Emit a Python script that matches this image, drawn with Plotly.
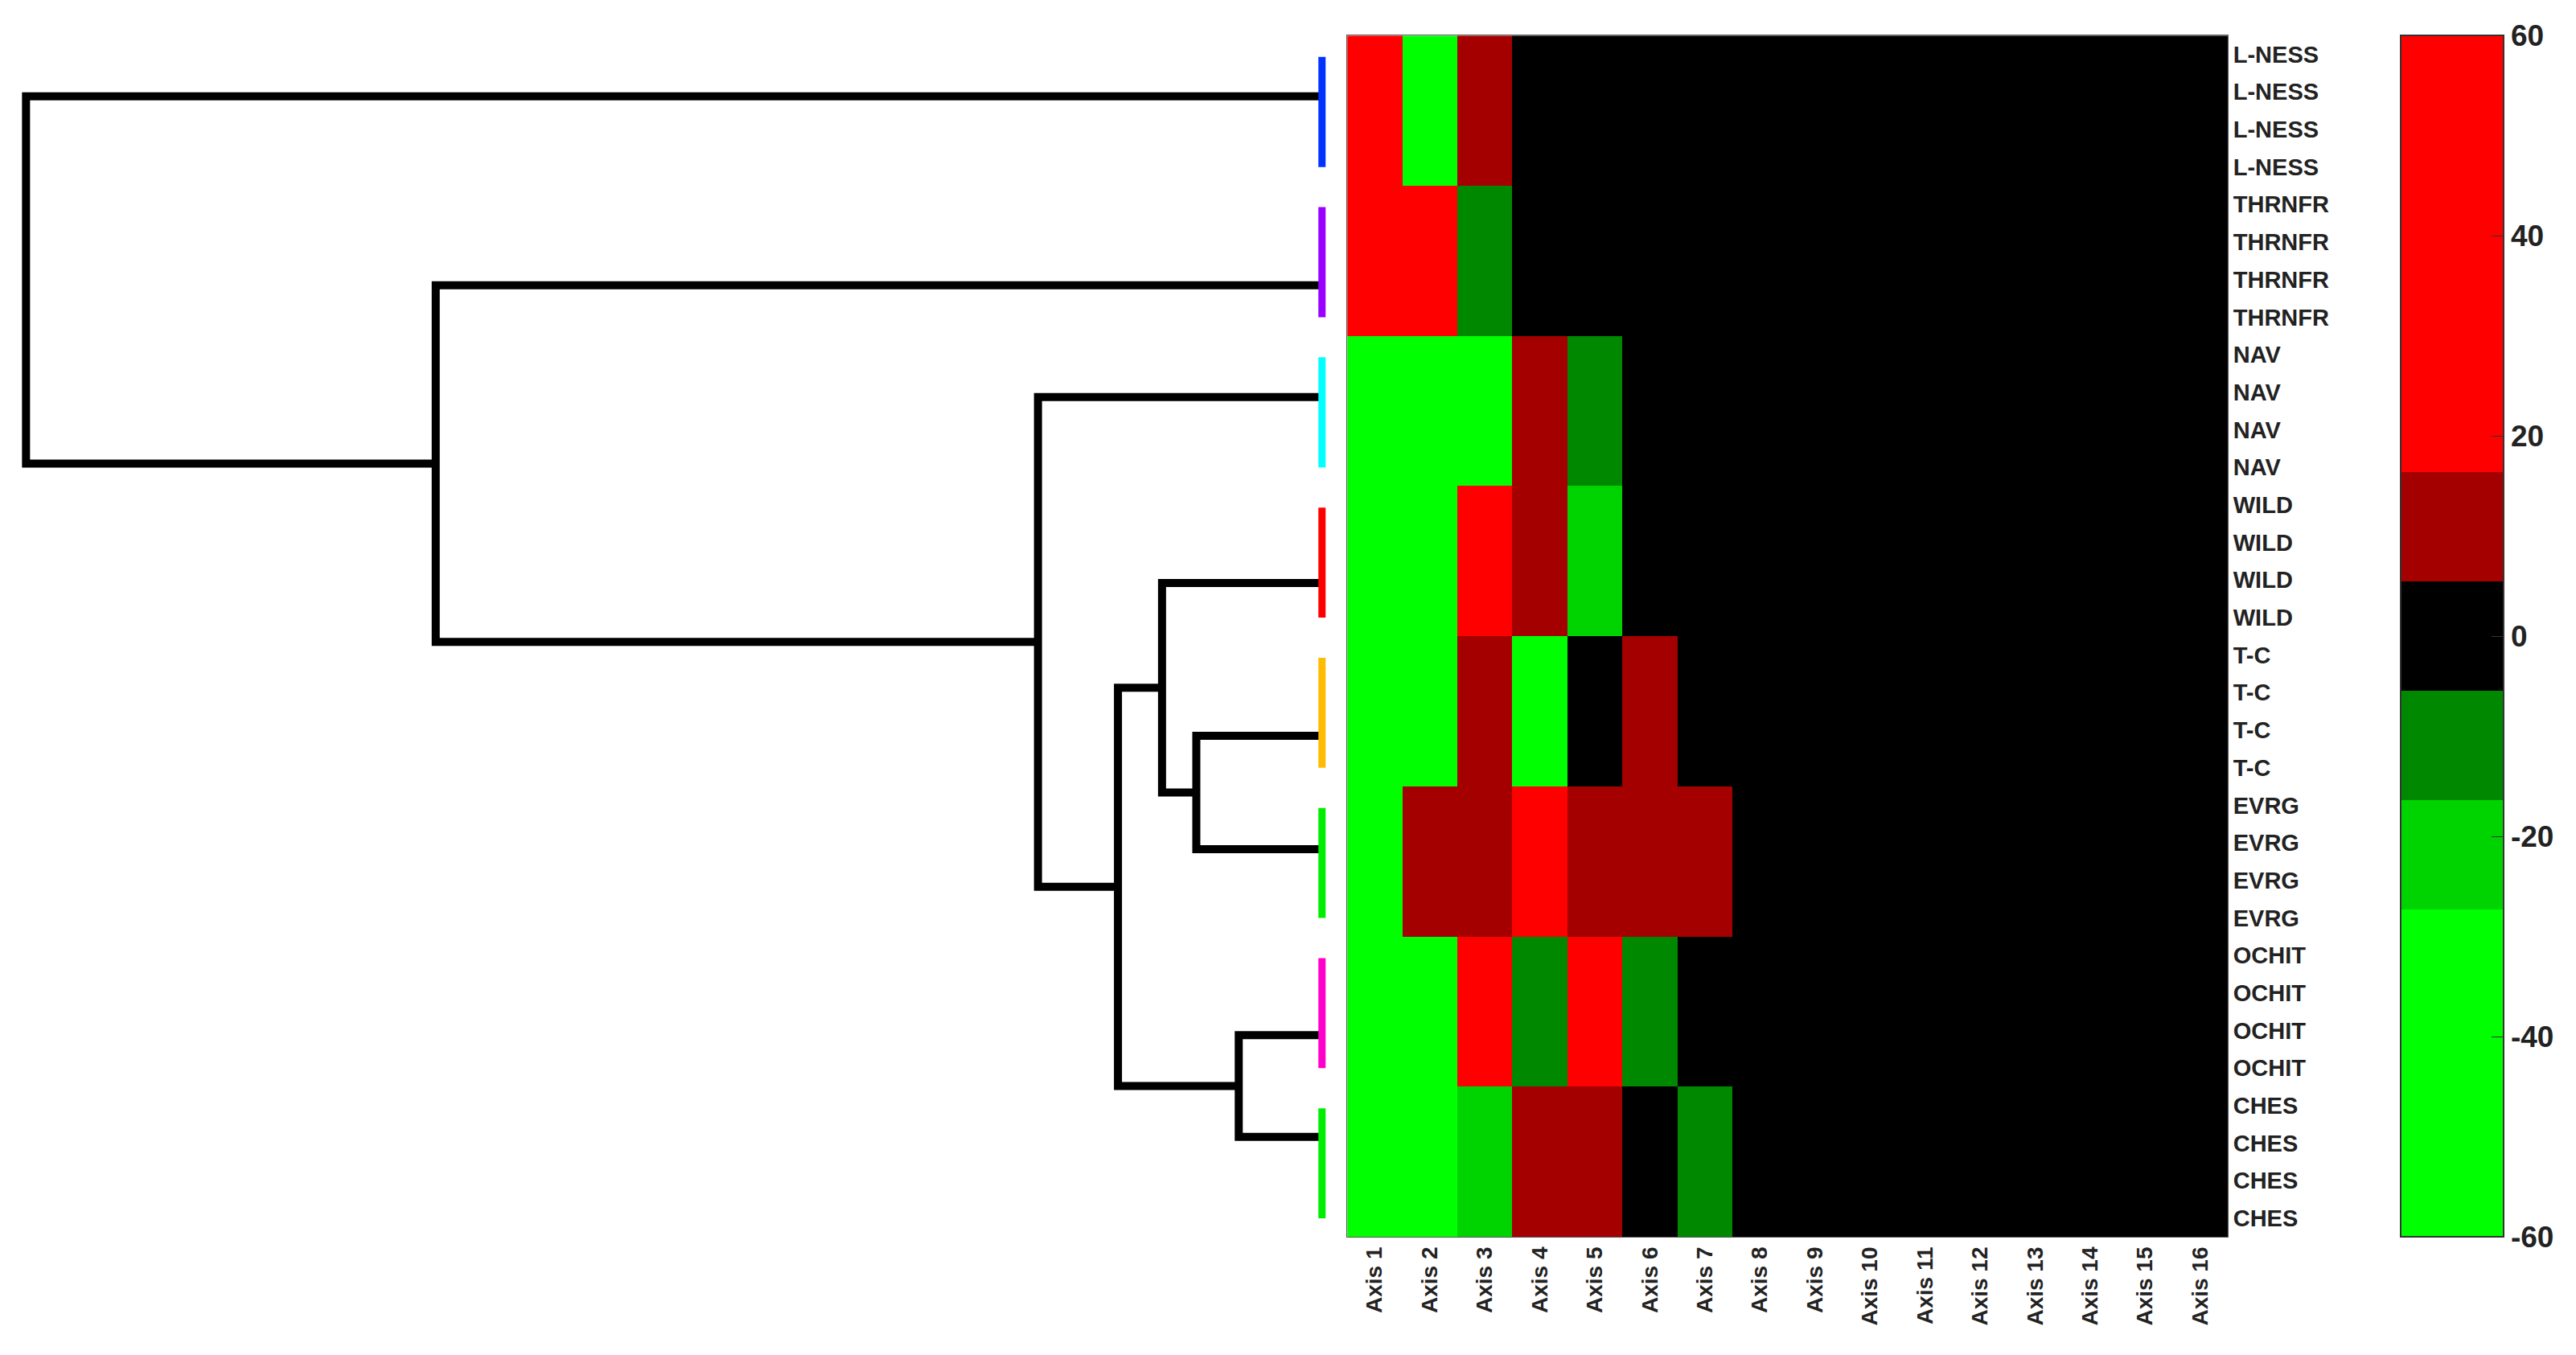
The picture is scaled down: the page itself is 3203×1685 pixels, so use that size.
import plotly.graph_objects as go
import numpy as np

groups = ["L-NESS", "THRNFR", "NAV", "WILD", "T-C", "EVRG", "OCHIT", "CHES"]
axes_labels = [f"Axis {i}" for i in range(1, 17)]
R, DR, K, DG, MG, BG = 40, 10, 0, -10, -22, -45
group_values = {
    "L-NESS": [R, BG, DR],
    "THRNFR": [R, R, DG],
    "NAV":    [BG, BG, BG, DR, DG],
    "WILD":   [BG, BG, R, DR, MG],
    "T-C":    [BG, BG, DR, BG, K, DR],
    "EVRG":   [BG, DR, DR, R, DR, DR, DR],
    "OCHIT":  [BG, BG, R, DG, R, DG],
    "CHES":   [BG, BG, MG, DR, DR, K, DG],
}
reps = 4
group_colors = ["#0033FF", "#9900FF", "#00FFFF", "#FF0000", "#FFBB00", "#00EE00", "#FF00CC", "#00EE00"]
# leaf positions of the dendrogram (in row units)
leaf_y = [1.12, 6.15, 9.13, 14.08, 18.15, 21.17, 26.12, 28.83]
# dendrogram merges: (left node, right node, height); leaves 0..7, new nodes 8..
merges = [(6, 7, 51), (4, 5, 77), (3, 9, 98), (10, 8, 125), (2, 11, 174), (1, 12, 543), (0, 13, 794)]
cbar_ticks = [-60, -40, -20, 0, 20, 40, 60]

rows, labels = [], []
for g in groups:
    v = group_values[g] + [0] * (16 - len(group_values[g]))
    for _ in range(reps):
        rows.append(v); labels.append(g)
z = np.array(rows)

bins = [(-60 + k * 120 / 11) for k in range(12)]
bin_cols = ["#00FF00", "#00FF00", "#00FF00", "#00D400", "#008800", "#000000", "#A50000",
            "#FF0000", "#FF0000", "#FF0000", "#FF0000"]
cs = []
for i, c in enumerate(bin_cols):
    cs.append([(bins[i] + 60) / 120, c]); cs.append([(bins[i + 1] + 60) / 120, c])

F = "Liberation Sans"
top, bot = 0.9785, 0.0918
fig = go.Figure()
fig.add_trace(go.Heatmap(z=z, x=list(range(16)), y=list(range(len(labels))), zmin=-60, zmax=60,
    colorscale=cs, xgap=0, ygap=0,
    colorbar=dict(x=0.9295, xanchor="left", xpad=0, ypad=0, y=top, yanchor="top", len=top - bot,
                  lenmode="fraction", thickness=128, thicknessmode="pixels", outlinewidth=2,
                  outlinecolor="#333", tickvals=cbar_ticks, ticktext=[str(t) for t in cbar_ticks],
                  ticks="inside", ticklen=16, tickcolor="#333",
                  tickfont=dict(family=F, size=37, color="#222", weight="bold"))))

pos = {i: (0.0, leaf_y[i]) for i in range(len(groups))}
for k, (a, b, h) in enumerate(merges):
    (ha, ya), (hb, yb) = pos[a], pos[b]
    fig.add_trace(go.Scatter(x=[ha, h, h, hb], y=[ya, ya, yb, yb], xaxis="x2", yaxis="y",
        mode="lines", line=dict(color="black", width=10), showlegend=False, hoverinfo="skip"))
    pos[len(groups) + k] = (h, (ya + yb) / 2)
for i, c in enumerate(group_colors):
    fig.add_trace(go.Scatter(x=[0, 0], y=[reps * i + 0.07, reps * i + 3.0], xaxis="x2", yaxis="y",
        mode="lines", line=dict(color=c, width=9), showlegend=False, hoverinfo="skip"))

fig.update_layout(width=3203, height=1685, margin=dict(l=0, r=0, t=0, b=0),
    plot_bgcolor="white", paper_bgcolor="white",
    xaxis=dict(domain=[0.5205, 0.8623], range=[-0.5, 15.5], tickvals=list(range(16)), ticktext=axes_labels,
               tickangle=-90, showgrid=False, zeroline=False, ticks="",
               tickfont=dict(family=F, size=28, color="#222", weight="bold"), anchor="y",
               showline=True, linecolor="#555", mirror=True),
    yaxis=dict(domain=[bot, top], range=[len(labels) - 0.5, -0.5], tickvals=list(range(len(labels))),
               ticktext=labels, side="right", showgrid=False, zeroline=False, ticks="",
               tickfont=dict(family=F, size=29, color="#222", weight="bold"), anchor="x",
               showline=True, linecolor="#555", mirror=True),
    xaxis2=dict(domain=[0.0, 0.5145], range=[806, -6], visible=False, anchor="y"),
)
fig.write_html("out.html")
